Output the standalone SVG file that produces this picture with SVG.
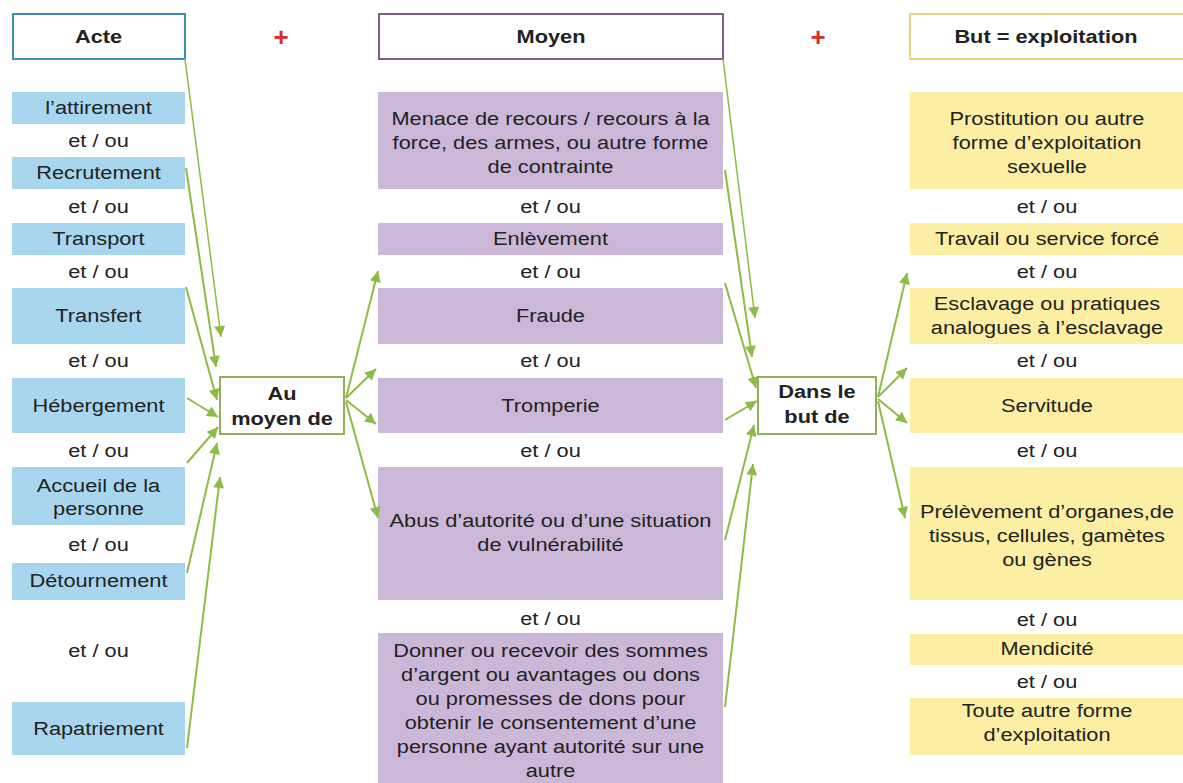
<svg xmlns="http://www.w3.org/2000/svg" width="1183" height="783" viewBox="0 0 1183 783">
<style>
.t{font-family:"Liberation Sans",Arial,sans-serif;font-size:18px;fill:#222;text-anchor:middle}
.b{font-weight:bold}
.blue{fill:#a8d6ef}
.pur{fill:#cbb8d9}
.yel{fill:#fcefa4}
.hd{fill:#fff;stroke-width:2}
.ctr{fill:#fff;stroke:#93ae5c;stroke-width:2}
.plus{font-family:"Liberation Sans",Arial,sans-serif;font-size:26px;font-weight:bold;fill:#d42b2b;text-anchor:middle}
.c{stroke:#8dbb45;stroke-width:2;fill:none;marker-end:url(#ah)}
.c0{stroke:#8dbb45;stroke-width:1.5;fill:none;marker-end:url(#ah)}
</style>
<defs>
<marker id="ah" viewBox="0 0 10 10" refX="10" refY="5" markerWidth="13" markerHeight="11" markerUnits="userSpaceOnUse" orient="auto">
<path d="M0,0 L10,5 L0,10 z" fill="#8dbb45"/>
</marker>
</defs>
<rect width="1183" height="783" fill="#fff"/>

<g id="headers">
<g id="h-acte"><rect class="hd" x="13" y="14" width="172" height="45" stroke="#3d8fae"/><text class="t b" transform="translate(98.5 43) scale(1.21 1)">Acte</text></g>
<text class="plus" x="281" y="46">+</text>
<g id="h-moyen"><rect class="hd" x="379" y="14" width="344" height="45" stroke="#7e5d8a"/><text class="t b" transform="translate(551 43) scale(1.21 1)">Moyen</text></g>
<text class="plus" x="818" y="46">+</text>
<g id="h-but"><rect class="hd" x="910" y="14" width="280" height="45" stroke="#e4d67c"/><text class="t b" transform="translate(1046 43) scale(1.21 1)">But = exploitation</text></g>
</g>

<g id="acte-col">
<g id="a1"><rect class="blue" x="12" y="92" width="173" height="32"/><text class="t" transform="translate(98.5 114) scale(1.21 1)">l’attirement</text></g>
<text class="t" transform="translate(98.5 147) scale(1.21 1)">et / ou</text>
<g id="a2"><rect class="blue" x="12" y="157" width="173" height="32"/><text class="t" transform="translate(98.5 179) scale(1.21 1)">Recrutement</text></g>
<text class="t" transform="translate(98.5 213) scale(1.21 1)">et / ou</text>
<g id="a3"><rect class="blue" x="12" y="223" width="173" height="32"/><text class="t" transform="translate(98.5 245) scale(1.21 1)">Transport</text></g>
<text class="t" transform="translate(98.5 278) scale(1.21 1)">et / ou</text>
<g id="a4"><rect class="blue" x="12" y="288" width="173" height="56"/><text class="t" transform="translate(98.5 322) scale(1.21 1)">Transfert</text></g>
<text class="t" transform="translate(98.5 367) scale(1.21 1)">et / ou</text>
<g id="a5"><rect class="blue" x="12" y="378" width="173" height="55"/><text class="t" transform="translate(98.5 412) scale(1.21 1)">Hébergement</text></g>
<text class="t" transform="translate(98.5 457) scale(1.21 1)">et / ou</text>
<g id="a6"><rect class="blue" x="12" y="467" width="173" height="58"/><text class="t" transform="translate(98.5 492) scale(1.21 1)"><tspan x="0">Accueil de la</tspan><tspan x="0" dy="23">personne</tspan></text></g>
<text class="t" transform="translate(98.5 551) scale(1.21 1)">et / ou</text>
<g id="a7"><rect class="blue" x="12" y="563" width="173" height="37"/><text class="t" transform="translate(98.5 587) scale(1.21 1)">Détournement</text></g>
<text class="t" transform="translate(98.5 657) scale(1.21 1)">et / ou</text>
<g id="a8"><rect class="blue" x="12" y="702" width="173" height="53"/><text class="t" transform="translate(98.5 735) scale(1.21 1)">Rapatriement</text></g>
</g>

<g id="au-moyen"><rect class="ctr" x="220" y="377" width="124" height="57"/><text class="t b" transform="translate(282 400) scale(1.21 1)"><tspan x="0">Au</tspan><tspan x="0" dy="25">moyen de</tspan></text></g>

<g id="moyen-col">
<g id="m1"><rect class="pur" x="378" y="92" width="345" height="97"/><text class="t" transform="translate(550.5 125) scale(1.21 1)"><tspan x="0">Menace de recours / recours à la</tspan><tspan x="0" dy="24">force, des armes, ou autre forme</tspan><tspan x="0" dy="24">de contrainte</tspan></text></g>
<text class="t" transform="translate(550.5 213) scale(1.21 1)">et / ou</text>
<g id="m2"><rect class="pur" x="378" y="223" width="345" height="32"/><text class="t" transform="translate(550.5 245) scale(1.21 1)">Enlèvement</text></g>
<text class="t" transform="translate(550.5 278) scale(1.21 1)">et / ou</text>
<g id="m3"><rect class="pur" x="378" y="288" width="345" height="56"/><text class="t" transform="translate(550.5 322) scale(1.21 1)">Fraude</text></g>
<text class="t" transform="translate(550.5 367) scale(1.21 1)">et / ou</text>
<g id="m4"><rect class="pur" x="378" y="378" width="345" height="55"/><text class="t" transform="translate(550.5 412) scale(1.21 1)">Tromperie</text></g>
<text class="t" transform="translate(550.5 457) scale(1.21 1)">et / ou</text>
<g id="m5"><rect class="pur" x="378" y="467" width="345" height="133"/><text class="t" transform="translate(550.5 527) scale(1.21 1)"><tspan x="0">Abus d’autorité ou d’une situation</tspan><tspan x="0" dy="24">de vulnérabilité</tspan></text></g>
<text class="t" transform="translate(550.5 625) scale(1.21 1)">et / ou</text>
<g id="m6"><rect class="pur" x="378" y="633" width="345" height="150"/><text class="t" transform="translate(550.5 657) scale(1.21 1)"><tspan x="0">Donner ou recevoir des sommes</tspan><tspan x="0" dy="24">d’argent ou avantages ou dons</tspan><tspan x="0" dy="24">ou promesses de dons pour</tspan><tspan x="0" dy="24">obtenir le consentement d’une</tspan><tspan x="0" dy="24">personne ayant autorité sur une</tspan><tspan x="0" dy="24">autre</tspan></text></g>
</g>

<g id="dans-le-but"><rect class="ctr" x="758" y="377" width="118" height="57"/><text class="t b" transform="translate(817 398) scale(1.21 1)"><tspan x="0">Dans le</tspan><tspan x="0" dy="25">but de</tspan></text></g>

<g id="but-col">
<g id="b1"><rect class="yel" x="910" y="92" width="273" height="97"/><text class="t" transform="translate(1047 125) scale(1.21 1)"><tspan x="0">Prostitution ou autre</tspan><tspan x="0" dy="24">forme d’exploitation</tspan><tspan x="0" dy="24">sexuelle</tspan></text></g>
<text class="t" transform="translate(1047 213) scale(1.21 1)">et / ou</text>
<g id="b2"><rect class="yel" x="910" y="223" width="273" height="32"/><text class="t" transform="translate(1047 245) scale(1.21 1)">Travail ou service forcé</text></g>
<text class="t" transform="translate(1047 278) scale(1.21 1)">et / ou</text>
<g id="b3"><rect class="yel" x="910" y="288" width="273" height="56"/><text class="t" transform="translate(1047 310) scale(1.21 1)"><tspan x="0">Esclavage ou pratiques</tspan><tspan x="0" dy="24">analogues à l’esclavage</tspan></text></g>
<text class="t" transform="translate(1047 367) scale(1.21 1)">et / ou</text>
<g id="b4"><rect class="yel" x="910" y="378" width="273" height="55"/><text class="t" transform="translate(1047 412) scale(1.21 1)">Servitude</text></g>
<text class="t" transform="translate(1047 457) scale(1.21 1)">et / ou</text>
<g id="b5"><rect class="yel" x="910" y="467" width="273" height="133"/><text class="t" transform="translate(1047 518) scale(1.21 1)"><tspan x="0">Prélèvement d’organes,de</tspan><tspan x="0" dy="24">tissus, cellules, gamètes</tspan><tspan x="0" dy="24">ou gènes</tspan></text></g>
<text class="t" transform="translate(1047 626) scale(1.21 1)">et / ou</text>
<g id="b6"><rect class="yel" x="910" y="634" width="273" height="31"/><text class="t" transform="translate(1047 655) scale(1.21 1)">Mendicité</text></g>
<text class="t" transform="translate(1047 688) scale(1.21 1)">et / ou</text>
<g id="b7"><rect class="yel" x="910" y="698" width="273" height="57"/><text class="t" transform="translate(1047 717) scale(1.21 1)"><tspan x="0">Toute autre forme</tspan><tspan x="0" dy="24">d’exploitation</tspan></text></g>
</g>

<g id="connectors">
<line class="c0" x1="185" y1="59" x2="221" y2="337"/>
<line class="c" x1="186" y1="168" x2="216" y2="367"/>
<line class="c" x1="186" y1="287" x2="217" y2="400"/>
<line class="c" x1="187" y1="398" x2="218" y2="417"/>
<line class="c" x1="187" y1="463" x2="218" y2="427"/>
<line class="c" x1="187" y1="573" x2="217" y2="443"/>
<line class="c" x1="187" y1="748" x2="220" y2="477"/>

<line class="c" x1="346" y1="398" x2="378" y2="271"/>
<line class="c" x1="346" y1="398" x2="376" y2="369"/>
<line class="c" x1="346" y1="400" x2="376" y2="424"/>
<line class="c" x1="346" y1="402" x2="378" y2="518"/>

<line class="c0" x1="723" y1="59" x2="755" y2="318"/>
<line class="c" x1="725" y1="170" x2="752" y2="357"/>
<line class="c" x1="725" y1="283" x2="756" y2="388"/>
<line class="c" x1="725" y1="420" x2="757" y2="401"/>
<line class="c" x1="725" y1="540" x2="754" y2="425"/>
<line class="c" x1="725" y1="707" x2="753" y2="464"/>

<line class="c" x1="878" y1="397" x2="907" y2="273"/>
<line class="c" x1="878" y1="397" x2="907" y2="368"/>
<line class="c" x1="878" y1="399" x2="907" y2="423"/>
<line class="c" x1="878" y1="401" x2="905" y2="518"/>
</g>
</svg>
